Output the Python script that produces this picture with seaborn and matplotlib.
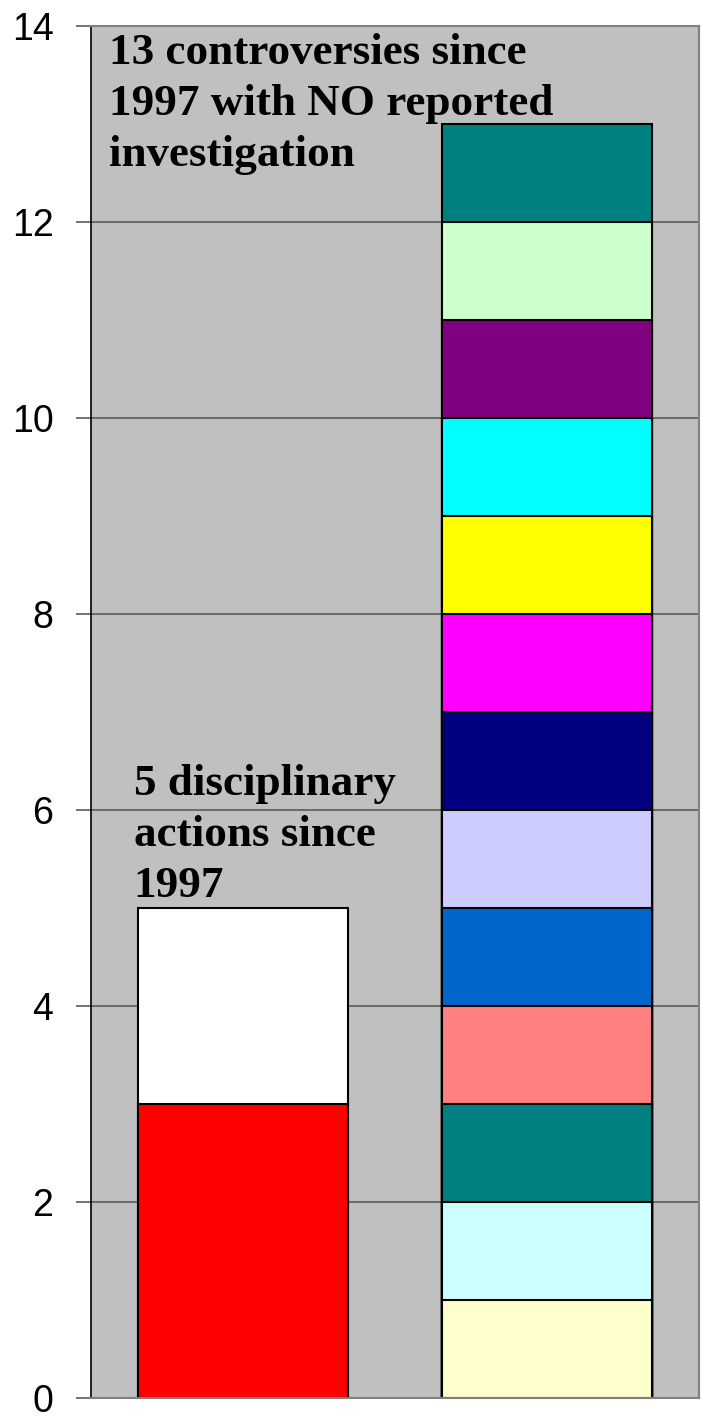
import pandas as pd
import matplotlib
matplotlib.use("Agg")
import matplotlib.pyplot as plt
import seaborn as sns

# Données
categories = ["disciplinary", "controversies"]
left_values = [3, 2]
left_colors = ["#FF0000", "#FFFFFF"]
right_values = [1] * 13
right_colors = ["#FFFFCC", "#CCFFFF", "#008080", "#FF8080", "#0066CC",
                "#CCCCFF", "#000080", "#FF00FF", "#FFFF00", "#00FFFF",
                "#800080", "#CCFFCC", "#008080"]
y_ticks = [0, 2, 4, 6, 8, 10, 12, 14]
left_note = "5 disciplinary\nactions since\n1997"
right_note = "13 controversies since\n1997 with NO reported\ninvestigation"


def build_segments(cat, values, colors):
    rows = []
    top = 0
    for v, c in zip(values, colors):
        top += v
        rows.append({"cat": cat, "top": top, "color": c})
    return rows


segments = pd.DataFrame(
    build_segments(categories[0], left_values, left_colors)
    + build_segments(categories[1], right_values, right_colors)
)

sns.set_theme(style="white", rc={"axes.facecolor": "#C0C0C0", "text.color": "black"})
plt.rcParams["font.family"] = ["Liberation Sans", "DejaVu Sans"]

fig = plt.figure(figsize=(7.02, 14.16), dpi=100)
ax = fig.add_axes([0.1296, 0.0127, 0.866, 0.969])

# Empilement : on dessine les hauteurs cumulées, de la plus haute à la plus basse
for _, row in segments.sort_values("top", ascending=False).iterrows():
    sns.barplot(x=[row["cat"]], y=[row["top"]], order=categories,
                color=row["color"], saturation=1, errorbar=None,
                width=0.69, edgecolor="black", linewidth=1.5, ax=ax)

ax.set_xlim(-0.5, 1.5)
ax.set_ylim(0, 14)
ax.set_yticks(y_ticks)
ax.set_xticks([])
ax.set_xlabel("")
ax.set_ylabel("")
ax.yaxis.grid(True, color="#5A5A5A", linewidth=1.2)
ax.set_axisbelow(True)
ax.tick_params(axis="y", which="both", left=True, direction="out", length=11,
               width=1.2, color="#5A5A5A", pad=16, labelsize=27, labelcolor="black")
for side in ["top", "right", "bottom"]:
    ax.spines[side].set_color("#808080")
    ax.spines[side].set_linewidth(1.5)
ax.spines["left"].set_color("black")
ax.spines["left"].set_linewidth(1.2)

serif = ["Liberation Serif", "DejaVu Serif"]
ax.text(-0.44, 13.93, right_note, family=serif, fontweight="bold", fontsize=32.5,
        color="black", va="top", ha="left", linespacing=1.36)
ax.text(-0.36, 6.47, left_note, family=serif, fontweight="bold", fontsize=32.5,
        color="black", va="top", ha="left", linespacing=1.36)

fig.savefig("out.png", dpi=100)
